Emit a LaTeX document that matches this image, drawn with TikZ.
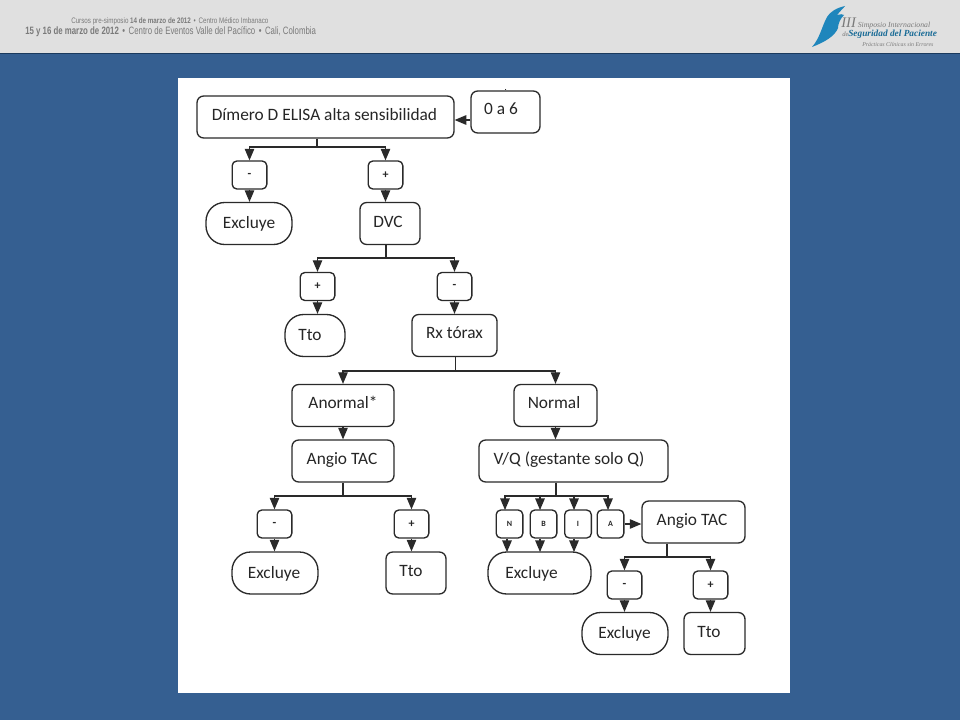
\documentclass[tikz,border=0pt]{standalone}
\usepackage{fontspec}
\setmainfont{Carlito}
\newfontfamily\headfont{Liberation Sans}
\newfontfamily\logofont{Liberation Serif}
\usepackage{xcolor}
\usetikzlibrary{arrows}
\definecolor{slide}{HTML}{355F91}
\definecolor{slidedark}{HTML}{1B3A5E}
\definecolor{band}{HTML}{E0E0E0}
\definecolor{linegray}{HTML}{2A2A2A}
\definecolor{headgray}{HTML}{7A7A7A}
\definecolor{logoblue}{HTML}{1F86BC}
\newcommand{\lbl}[3]{\makebox[0pt]{\hspace*{\dimexpr #1pt*3/2\relax}\raisebox{\dimexpr #2pt*3/4 - .3em\relax}[0pt][0pt]{#3}}}
\tikzset{
    wd/.style = {minimum width=#1*0.75pt},
    treenode/.style = {align=center, inner sep=0pt, draw=linegray, line width=1pt, fill=white, text=black!85, font=\fontsize{13}{15}\selectfont},
    bigbox/.style = {treenode, rectangle, rounded corners=5pt, minimum height=31.5pt},
    pill/.style = {treenode, rectangle, rounded corners=14pt, minimum height=31.5pt},
    signbox/.style = {treenode, rectangle, rounded corners=3.5pt, minimum width=26pt, minimum height=21pt, font=\fontsize{9}{10}\bfseries\selectfont},
    tinybox/.style = {signbox, minimum width=20pt, font=\fontsize{6}{7}\bfseries\selectfont},
    headtext/.style = {text=headgray, inner sep=0pt, anchor=west},
    branch/.style = {draw=linegray, line width=1pt},
    link/.style = {branch, ->}
}
\begin{document}
\begin{tikzpicture}[x=0.75pt,y=-0.75pt,>=triangle 45]
    \useasboundingbox (0,0) rectangle (960,720);
    % slide background
    \fill[slide] (0,0) rectangle (960,720);
    \fill[band] (0,0) rectangle (960,53);
    \fill[slidedark] (0,53) rectangle (960,54.5);
    \fill[white] (178,78) rectangle (790,693);
    % header text
    \node[headtext, font=\headfont\fontsize{6}{7}\selectfont] (presimp) at (71,21)
        {\scalebox{.78}[1]{Cursos pre-simposio \textbf{14 de marzo de 2012} \,•\, Centro Médico Imbanaco}};
    \node[headtext, font=\headfont\fontsize{8}{9}\selectfont] (fecha) at (25,32)
        {\scalebox{.735}[1]{\textbf{15 y 16 de marzo de 2012} \,•\, Centro de Eventos Valle del Pacífico \,•\, Cali, Colombia}};
    % logo
    \fill[logoblue] (812,47) .. controls (820,38) and (822,26) .. (827,17)
        .. controls (830,12) and (836,8) .. (845,6)
        .. controls (842,10) and (839,12) .. (837,15)
        .. controls (840,14) and (843,14) .. (844,15)
        .. controls (840,19) and (838,24) .. (838,28)
        .. controls (835,36) and (825,42) .. (812,47) -- cycle;
    \node[headtext, font=\logofont\itshape\fontsize{5.8}{7}\selectfont] (simposio) at (841,23.5)
        {{\fontsize{11}{11}\selectfont III} Simposio Internacional};
    \node[headtext, font=\logofont\itshape\fontsize{5}{6}\selectfont] (de) at (842,34) {de};
    \node[headtext, text=logoblue!80!black, font=\logofont\bfseries\itshape\fontsize{7}{8}\selectfont] (seguridad) at (848,34.5)
        {Seguridad del Paciente};
    \node[headtext, font=\logofont\itshape\fontsize{4.4}{5}\selectfont] (practicas) at (862,44)
        {Prácticas Clínicas sin Errores};
    % top of the tree
    \node[bigbox, wd=257] (dimero) at (325.5,117) {\lbl{-1}{2}{Dímero D ELISA alta sensibilidad}};
    \node[bigbox, wd=69] (cero) at (505.5,112) {\lbl{-4.5}{3}{0 a 6}};
    \node[signbox] (neg1) at (249.5,175) {-};
    \node[signbox] (pos1) at (385.5,175) {+};
    \node[pill, wd=86] (excl1) at (249,223.5) {\lbl{0}{0}{Excluye}};
    \node[bigbox, wd=60] (dvc) at (390,223.5) {\lbl{-2}{1.5}{DVC}};
    \node[signbox] (pos2) at (317.5,286.5) {+};
    \node[signbox] (neg2) at (454.5,286.5) {-};
    \node[pill, wd=60] (tto1) at (315,335.5) {\lbl{-5}{0}{Tto}};
    \node[bigbox, wd=85] (rx) at (454.5,335.5) {\lbl{0}{2.5}{Rx tórax}};
    % left side
    \node[bigbox, wd=102] (anormal) at (343,405.5) {\lbl{0}{2.5}{Anormal*}};
    \node[bigbox, wd=102] (angio1) at (343,461) {\lbl{-1}{2}{Angio TAC}};
    \node[signbox] (neg3) at (274.5,524) {-};
    \node[signbox] (pos3) at (411.5,524) {+};
    \node[pill, wd=86] (excl2) at (275,573) {\lbl{-1}{0}{Excluye}};
    \node[bigbox, wd=60] (tto2) at (416,573) {\lbl{-5}{2}{Tto}};
    % right side
    \node[bigbox, wd=83] (normal) at (555.5,405.5) {\lbl{-1.5}{2.5}{Normal}};
    \node[bigbox, wd=189] (vq) at (573.5,461) {\lbl{-4.5}{2}{V/Q (gestante solo Q)}};
    \node[tinybox] (n) at (509.5,524) {N};
    \node[tinybox] (b) at (543.5,524) {B};
    \node[tinybox] (i) at (578,524) {I};
    \node[tinybox] (a) at (610.5,524) {A};
    \node[bigbox, wd=103] (angio2) at (693.5,522) {\lbl{-1.5}{2}{Angio TAC}};
    \node[pill, wd=103] (excl3) at (539.5,573) {\lbl{-8}{0}{Excluye}};
    \node[signbox] (neg4) at (624.5,585) {-};
    \node[signbox] (pos4) at (710.5,585) {+};
    \node[pill, wd=86] (excl4) at (625,633.5) {\lbl{-.5}{0}{Excluye}};
    \node[bigbox, wd=61] (tto3) at (714.5,633.5) {\lbl{-5.5}{1.5}{Tto}};
    % branch points
    \coordinate (j1) at (317,147);
    \coordinate (j2) at (386,258);
    \coordinate (j3) at (455.5,371);
    \coordinate (j4) at (343,496);
    \coordinate (j5) at (556,496);
    \coordinate (j6) at (667,557);
    \coordinate (ne) at (507,552);
    \coordinate (be) at (540,552);
    \coordinate (ie) at (574,552);
    % trunks
    \foreach \parentbox/\joint in {dimero/j1, dvc/j2, rx/j3, angio1/j4, vq/j5, angio2/j6}
        \draw[branch] (\joint |- \parentbox.south) -- (\joint);
    % bars with their arrows
    \foreach \joint/\childbox in {j1/neg1, j1/pos1, j2/pos2, j2/neg2, j3/anormal, j4/neg3, j4/pos3, j6/neg4, j6/pos4}
        \draw[link] (\joint) -| (\childbox.north);
    \draw[link] (j3) -| (normal.north);
    \foreach \childx in {505,540,574,608}{
        \coordinate (kid) at (\childx,510);
        \draw[link] (j5) -| (kid);
    }
    % straight arrows
    \foreach \upper/\lower in {neg1/excl1, pos1/dvc, pos2/tto1, neg2/rx, anormal/angio1, neg3/excl2, pos3/tto2, normal/vq, neg4/excl4, pos4/tto3}
        \draw[link] (\upper.south) -- (\upper.south |- \lower.north);
    \draw[link] (n.south -| ne) -- (ne);
    \draw[link] (b.south -| be) -- (be);
    \draw[link] (i.south -| ie) -- (ie);
    \draw[link] (cero.west |- 0,120) -- (dimero.east |- 0,120);
    \draw[link] (a.east) -- (a.east -| angio2.west);
    % stray mark above the box
    \fill[black] (505.5,89.5) circle (0.5);
\end{tikzpicture}
\end{document}
